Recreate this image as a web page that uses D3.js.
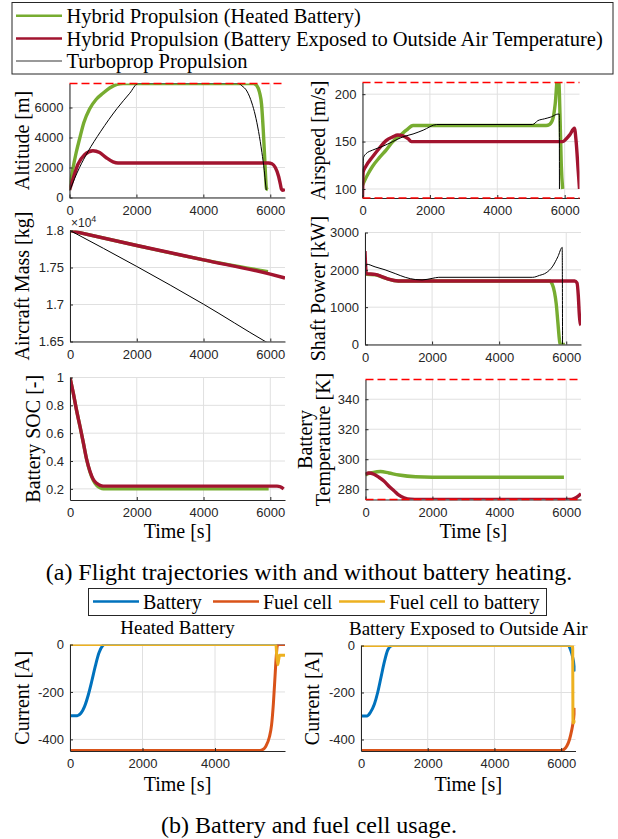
<!DOCTYPE html>
<html>
<head>
<meta charset="utf-8">
<script src="https://cdn.jsdelivr.net/npm/d3@7"></script>
<style>
  body { margin: 0; background: #fff; }
  svg text { font-family: "Liberation Serif", "Times New Roman", serif; fill: #000; }
  .tick text { font-family: "Liberation Sans", Arial, sans-serif; font-size: 13px; fill: #262626; }
  .tick line, .domain { stroke: #262626; }
</style>
</head>
<body>
<svg id="fig" width="618" height="839"></svg>
<script>
// ---- data: [time s, value] ----
var altHeated = [[0,520],[100,1900],[200,3000],[300,3900],[430,5000],[600,5900],[800,6550],[1000,6950],[1200,7300],[1420,7550],[1600,7600],[5500,7600],[5600,7450],[5680,7000],[5740,6200],[5790,4500],[5830,2800],[5860,1400],[5885,600],[5930,520]]
var altExposed = [[0,500],[100,1200],[250,2200],[450,2850],[700,3120],[900,3000],[1100,2650],[1300,2380],[1450,2300],[5950,2300],[6050,2250],[6150,2000],[6250,1400],[6300,900],[6335,550],[6370,480],[6440,540]]
var altTurbo = [[0,450],[50,700],[150,1250],[300,2000],[550,3050],[925,4380],[1420,5930],[1800,6950],[2050,7600],[5050,7600],[5150,7450],[5300,7100],[5450,6300],[5550,5500],[5650,4400],[5750,3000],[5820,1800],[5860,900],[5880,500]]

var spdHeated = [[0,104],[150,115],[300,124],[500,133],[700,141],[900,150],[1100,156],[1300,162],[1500,167],[5450,167],[5550,168],[5650,174],[5720,190],[5790,218],[5830,212],[5860,180],[5900,125],[5940,100]]
var spdExposed = [[0,90],[20,118],[100,124],[300,134],[500,143],[700,151],[900,155],[1050,157],[1200,156],[1350,153],[1450,150],[5950,150],[6050,153],[6150,157],[6290,164],[6340,150],[6400,120],[6440,100]]
var spdTurbo = [[0,90],[30,133],[100,137],[300,141],[600,145],[900,150],[1200,155],[1500,158],[1800,162],[2200,168],[5050,168],[5200,172],[5400,174],[5600,176],[5800,179],[5840,179],[5845,100]]

var massHeated = [[0,18000],[2000,17797],[4000,17604],[5930,17445]]
var massExposed = [[0,18000],[2000,17797],[4000,17604],[6000,17410],[6440,17358]]
var massTurbo = [[0,18000],[2000,17514],[4000,17004],[5850,16500],[5900,16487]]

var powHeated = [[0,1950],[50,1880],[300,1870],[600,1780],[1000,1700],[5500,1700],[5580,1620],[5650,1400],[5700,1100],[5750,600],[5800,100],[5820,0],[5960,0]]
var powExposed = [[0,2500],[40,1900],[300,1880],[500,1820],[700,1750],[1000,1700],[6250,1700],[6320,1650],[6360,1300],[6390,800],[6420,560],[6440,520]]
var powTurbo = [[0,2000],[50,2150],[300,2080],[600,2000],[900,1900],[1200,1800],[1500,1740],[1700,1730],[2000,1770],[2200,1800],[5000,1800],[5200,1850],[5400,1920],[5600,2100],[5750,2350],[5880,2600],[5890,0]]

var socHeated = [[0,1],[100,0.886],[200,0.76],[300,0.648],[400,0.53],[500,0.41],[600,0.32],[700,0.26],[800,0.225],[900,0.208],[1000,0.2],[5950,0.2]]
var socExposed = [[0,1],[100,0.886],[200,0.76],[300,0.648],[400,0.53],[500,0.41],[600,0.325],[700,0.267],[800,0.24],[900,0.225],[1000,0.22],[6200,0.22],[6300,0.215],[6400,0.2]]

var tempHeated = [[0,289],[30,290],[200,291],[450,291.8],[700,290.8],[1000,289.5],[1500,288.3],[2000,288],[5930,288]]
var tempExposed = [[0,290],[100,290.8],[250,290],[400,288],[550,285.5],[700,282],[850,279],[1000,276],[1150,274.3],[1350,273.3],[1600,273.15],[6150,273.15],[6300,274.5],[6440,277]]

var batHeated = [[0,-300],[200,-300],[300,-290],[400,-262],[500,-215],[600,-155],[700,-90],[800,-35],[900,-5],[950,0],[5931,0]]
var fcHeated = [[0,-447],[5200,-447],[5300,-444],[5400,-430],[5500,-390],[5560,-340],[5610,-250],[5650,-150],[5690,-50],[5720,-5],[5750,0],[5931,0]]
var fc2batHeated = [[0,0],[5680,0],[5700,-40],[5730,-85],[5760,-60],[5780,-45],[5931,-45]]

var batExposed = [[0,-300],[180,-300],[280,-285],[400,-250],[500,-200],[600,-135],[700,-70],[800,-20],[900,-2],[950,0],[6220,0],[6260,-10],[6320,-35],[6380,-75],[6430,-110]]
var fcExposed = [[0,-447],[6000,-447],[6080,-443],[6170,-428],[6250,-400],[6320,-358],[6380,-310],[6430,-266]]
var fc2batExposed = [[0,0],[6345,0],[6355,-330],[6430,-318]]

var timeTicks = [0, 2000, 4000, 6000]
var altTicks = [0, 2000, 4000, 6000]
var spdTicks = [100, 150, 200]
var massTicks = [16500, 17000, 17500, 18000]
var massTickLabels = ['1.65', '1.7', '1.75', '1.8']
var powTicks = [0, 1000, 2000, 3000]
var socTicks = [0.2, 0.4, 0.6, 0.8, 1]
var socTickLabels = ['0.2', '0.4', '0.6', '0.8', '1']
var tempTicks = [280, 300, 320, 340]
var curTicks = [-400, -200, 0]

var trajNames = ['Hybrid Propulsion (Heated Battery)', 'Hybrid Propulsion (Battery Exposed to Outside Air Temperature)', 'Turboprop Propulsion']
var curNames = ['Battery', 'Fuel cell', 'Fuel cell to battery']

var green = '#77AC30', red = '#A2142F', blue = '#0072BD', orange = '#D95319', yellow = '#EDB120'

var svg = d3.select('#fig')
var clipId = 0

// one MATLAB style axes
function panel (o) {
  var x = d3.scaleLinear().domain(o.xDom).range([o.left, o.right])
  var y = d3.scaleLinear().domain(o.yDom).range([o.bottom, o.top])
  var g = svg.append('g')

  // grid
  g.selectAll('line.vg').data(o.xTicks).enter().append('line')
    .attr('x1', d => x(d)).attr('x2', d => x(d))
    .attr('y1', o.top).attr('y2', o.bottom)
    .attr('stroke', '#e0e0e0').attr('stroke-width', 1)
  g.selectAll('line.hg').data(o.yTicks).enter().append('line')
    .attr('x1', o.left).attr('x2', o.right)
    .attr('y1', d => y(d)).attr('y2', d => y(d))
    .attr('stroke', '#e0e0e0').attr('stroke-width', 1)

  // lines
  clipId++
  svg.append('clipPath').attr('id', 'c' + clipId).append('rect')
    .attr('x', o.left).attr('y', o.top).attr('width', o.right - o.left).attr('height', o.bottom - o.top)
  var line = d3.line().x(d => x(d[0])).y(d => y(d[1])).curve(d3.curveMonotoneX)
  g.append('g').attr('clip-path', 'url(#c' + clipId + ')')
    .selectAll('path').data(o.series).enter().append('path')
    .attr('d', d => line(d.data))
    .attr('fill', 'none')
    .attr('stroke', d => d.color)
    .attr('stroke-width', d => d.width)
    .attr('stroke-linejoin', 'round')

  // axes
  var ax = d3.axisBottom(x).tickValues(o.xTicks).tickSizeInner(-3).tickSizeOuter(0).tickPadding(8)
    .tickFormat(d => String(d))
  g.append('g').attr('transform', 'translate(0,' + o.bottom + ')').call(ax)
  var ay = d3.axisLeft(y).tickValues(o.yTicks).tickSizeInner(-3).tickSizeOuter(0).tickPadding(6)
    .tickFormat(o.yLabels ? (d, i) => o.yLabels[i] : d => String(d))
  g.append('g').attr('transform', 'translate(' + o.left + ',0)').call(ay)

  // dashed limits, on top of the axis lines
  g.selectAll('line.lim').data(o.limits || []).enter().append('line')
    .attr('x1', o.left).attr('x2', o.right)
    .attr('y1', d => y(d)).attr('y2', d => y(d))
    .attr('stroke', '#ff0000').attr('stroke-width', 1.5).attr('stroke-dasharray', '8,4')

  // y label, one or two lines
  var yc = (o.top + o.bottom) / 2
  o.ylabel.forEach(function (t, i) {
    g.append('text')
      .attr('transform', 'translate(' + o.ylabelX[i] + ',' + yc + ') rotate(-90)')
      .attr('text-anchor', 'middle').attr('dy', '0.35em')
      .style('font-size', '20px').text(t)
  })
  if (o.xlabel) {
    g.append('text').attr('x', (o.left + o.right) / 2).attr('y', o.bottom + o.xlabelOff)
      .attr('text-anchor', 'middle').attr('dy', '0.35em').style('font-size', '20px').text(o.xlabel)
  }
  if (o.title) {
    g.append('text').attr('x', (o.left + o.right) / 2).attr('y', o.top - 17)
      .attr('text-anchor', 'middle').attr('dy', '0.35em').style('font-size', '19px').text(o.title)
  }
  return g
}

var topX = [0, 6440]

panel({ left: 69.5, right: 285, top: 83.5, bottom: 197.5, xDom: topX, yDom: [0, 7600],
  xTicks: timeTicks, yTicks: altTicks, ylabel: ['Altitude [m]'], ylabelX: [22], limits: [7600],
  series: [{ data: altHeated, color: green, width: 3.4 }, { data: altExposed, color: red, width: 3.4 }, { data: altTurbo, color: '#000', width: 1 }] })

panel({ left: 362.5, right: 579.5, top: 82.5, bottom: 198, xDom: topX, yDom: [90.5, 212.3],
  xTicks: timeTicks, yTicks: spdTicks, ylabel: ['Airspeed [m/s]'], ylabelX: [318], limits: [90.5, 212.3],
  series: [{ data: spdHeated, color: green, width: 3.4 }, { data: spdExposed, color: red, width: 3.4 }, { data: spdTurbo, color: '#000', width: 1 }] })

panel({ left: 70, right: 285, top: 230.5, bottom: 341.5, xDom: topX, yDom: [16500, 18000],
  xTicks: timeTicks, yTicks: massTicks, yLabels: massTickLabels, ylabel: ['Aircraft Mass [kg]'], ylabelX: [22],
  series: [{ data: massHeated, color: green, width: 3.4 }, { data: massExposed, color: red, width: 3.4 }, { data: massTurbo, color: '#000', width: 1 }] })

// exponent of the mass axis
var ex = svg.append('text').attr('x', 71).attr('y', 227)
  .style('font-family', '"Liberation Sans", Arial, sans-serif').style('font-size', '12px').style('fill', '#262626')
ex.append('tspan').text('×10')
ex.append('tspan').attr('dy', -5).style('font-size', '9px').text('4')

panel({ left: 365, right: 581, top: 232.5, bottom: 344.5, xDom: topX, yDom: [0, 3000],
  xTicks: timeTicks, yTicks: powTicks, ylabel: ['Shaft Power [kW]'], ylabelX: [318],
  series: [{ data: powHeated, color: green, width: 3.4 }, { data: powExposed, color: red, width: 3.4 }, { data: powTurbo, color: '#000', width: 1 }] })

panel({ left: 70, right: 285, top: 377.5, bottom: 500, xDom: topX, yDom: [0.12, 1],
  xTicks: timeTicks, yTicks: socTicks, yLabels: socTickLabels, ylabel: ['Battery SOC [-]'], ylabelX: [33],
  xlabel: 'Time [s]', xlabelOff: 31,
  series: [{ data: socHeated, color: green, width: 3.4 }, { data: socExposed, color: red, width: 3.4 }] })

panel({ left: 365.5, right: 581, top: 379.5, bottom: 499.5, xDom: topX, yDom: [273.15, 353.15],
  xTicks: timeTicks, yTicks: tempTicks, ylabel: ['Battery', 'Temperature [K]'], ylabelX: [305, 323],
  xlabel: 'Time [s]', xlabelOff: 31, limits: [273.15, 353.15],
  series: [{ data: tempHeated, color: green, width: 3.4 }, { data: tempExposed, color: red, width: 3.4 }] })

panel({ left: 70, right: 285, top: 644.5, bottom: 751, xDom: [0, 5931], yDom: [-449, 0],
  xTicks: [0, 2000, 4000], yTicks: curTicks, ylabel: ['Current [A]'], ylabelX: [22],
  xlabel: 'Time [s]', xlabelOff: 33, title: 'Heated Battery',
  series: [{ data: batHeated, color: blue, width: 3 }, { data: fcHeated, color: orange, width: 3 }, { data: fc2batHeated, color: yellow, width: 3 }] })

panel({ left: 361, right: 575.5, top: 645.5, bottom: 751, xDom: [0, 6430], yDom: [-449, 0],
  xTicks: timeTicks, yTicks: curTicks, ylabel: ['Current [A]'], ylabelX: [312],
  xlabel: 'Time [s]', xlabelOff: 33, title: 'Battery Exposed to Outside Air',
  series: [{ data: batExposed, color: blue, width: 3 }, { data: fcExposed, color: orange, width: 3 }, { data: fc2batExposed, color: yellow, width: 3 }] })

// top legend
svg.append('rect').attr('x', 12).attr('y', 2.5).attr('width', 601).attr('height', 71.5)
  .attr('fill', 'none').attr('stroke', '#262626').attr('stroke-width', 1)
var leg1 = svg.selectAll('g.leg1').data(trajNames).enter().append('g')
  .attr('transform', (d, i) => 'translate(0,' + (15.7 + i * 22.7) + ')')
leg1.append('line').attr('x1', 16).attr('x2', 62)
  .attr('stroke', (d, i) => [green, red, '#777'][i]).attr('stroke-width', (d, i) => i < 2 ? 2.5 : 1.5)
leg1.append('text').attr('x', 66.5).attr('dy', '0.35em').style('font-size', '20.5px').text(d => d)

svg.append('text').attr('x', 309).attr('y', 572).attr('text-anchor', 'middle').attr('dy', '0.35em')
  .style('font-size', '24px').text('(a) Flight trajectories with and without battery heating.')

// bottom legend
svg.append('rect').attr('x', 88.5).attr('y', 588.5).attr('width', 458).attr('height', 27)
  .attr('fill', 'none').attr('stroke', '#262626').attr('stroke-width', 1)
var leg2 = svg.selectAll('g.leg2').data(curNames).enter().append('g')
  .attr('transform', (d, i) => 'translate(' + [93, 213, 339][i] + ',601.5)')
leg2.append('line').attr('x1', 0).attr('x2', 46)
  .attr('stroke', (d, i) => [blue, orange, yellow][i]).attr('stroke-width', 2.5)
leg2.append('text').attr('x', 50).attr('dy', '0.35em').style('font-size', '20px').text(d => d)

svg.append('text').attr('x', 309).attr('y', 825).attr('text-anchor', 'middle').attr('dy', '0.35em')
  .style('font-size', '24px').text('(b) Battery and fuel cell usage.')
</script>
</body>
</html>
